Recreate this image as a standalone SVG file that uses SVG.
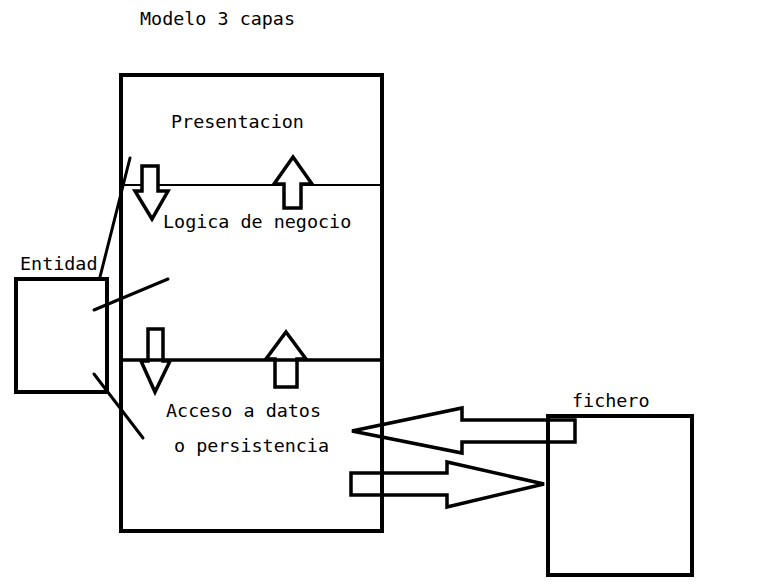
<svg xmlns="http://www.w3.org/2000/svg" width="771" height="585" viewBox="0 0 771 585">
<style>
.t{font-family:"DejaVu Sans Mono","Liberation Mono",monospace;font-size:18.4px;fill:#000}
.b{fill:none;stroke:#000;stroke-width:4}
.l{fill:none;stroke:#000;stroke-width:3;stroke-linecap:round}
.a{fill:#fff;stroke:#000;stroke-width:3.5;stroke-linejoin:miter}
</style>
<rect width="771" height="585" fill="#fff"/>
<text class="t" x="140" y="25">Modelo 3 capas</text>
<g id="modelo">
<rect class="b" x="121" y="75" width="261" height="456"/>
<line x1="121" y1="185" x2="380" y2="185" stroke="#000" stroke-width="2"/>
<text class="t" x="171" y="128">Presentacion</text>
<text class="t" x="163" y="228">Logica de negocio</text>
<text class="t" x="166" y="417">Acceso a datos</text>
<text class="t" x="174" y="452">o persistencia</text>
</g>
<g id="entidad">
<rect class="b" x="16" y="279" width="91" height="113"/>
<text class="t" x="20" y="270">Entidad</text>
</g>
<g id="fichero">
<rect class="b" x="548" y="416" width="144" height="159"/>
<text class="t" x="572" y="407">fichero</text>
</g>
<g id="connectors">
<line class="l" x1="100" y1="277" x2="130" y2="158"/>
<line class="l" x1="94" y1="310" x2="168" y2="279"/>
<line class="l" x1="94" y1="374" x2="143" y2="438"/>
<polygon class="a" points="142,166 158,166 158,191 168,191 152,219 135,191 142,191"/>
<polygon class="a" points="293,157 312,184 301,184 301,208 284,208 284,184 274,184"/>
<polygon class="a" points="148,329 163,329 163,361 170,361 155,392 141,361 148,361"/>
<polygon class="a" points="286,332 306,359 297,359 297,387 275,387 275,359 266,359"/>
<line x1="123" y1="360" x2="382" y2="360" stroke="#000" stroke-width="3.5"/>
<polygon class="a" points="352,431 462,408 462,420 575,420 575,442 462,442 462,453" fill-opacity="0"/>
<polygon class="a" points="351,473 447,473 447,462 544,484 447,507 447,495 351,495" fill-opacity="0"/>
</g>
</svg>
